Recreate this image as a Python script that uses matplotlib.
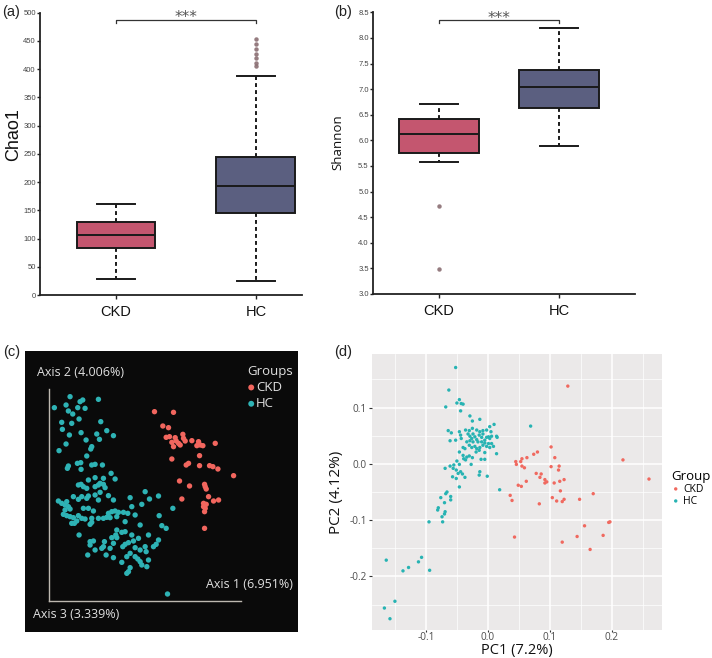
import matplotlib
matplotlib.use('Agg')
import matplotlib.pyplot as plt
import numpy as np
from matplotlib.ticker import MultipleLocator

# ---------------- data ----------------
groups = ['CKD', 'HC']
box_colors = ['#C4566F', '#5B5F80']

chao1_q1 = [83, 146]
chao1_med = [106, 193]
chao1_q3 = [130, 244]
chao1_whislo = [29, 25]
chao1_whishi = [162, 388]
chao1_fliers = [[], [405, 411, 419, 427, 436, 445, 454]]

shannon_q1 = [5.75, 6.64]
shannon_med = [6.12, 7.04]
shannon_q3 = [6.42, 7.38]
shannon_whislo = [5.57, 5.88]
shannon_whishi = [6.70, 8.20]
shannon_fliers = [[4.72, 3.48], []]

# panel (c): PCoA scores (Axis 1, Axis 2)
c_hc_ax1 = [0.062, 0.015, 0.050, 0.092, 0.100, 0.147, 0.085, 0.107, 0.057, 0.070,
            0.089, 0.037, 0.067, 0.154, 0.039, 0.095, 0.060, 0.142, 0.172, 0.192,
            0.110, 0.150, 0.050, 0.127, 0.124, 0.029, 0.112, 0.084, 0.094, 0.057,
            0.054, 0.127, 0.137, 0.159, 0.095, 0.185, 0.137, 0.162, 0.197, 0.117,
            0.087, 0.095, 0.102, 0.112, 0.137, 0.147, 0.152, 0.162, 0.167,
            0.072, 0.097, 0.117, 0.137, 0.152, 0.177, 0.192, 0.087, 0.112, 0.147,
            0.027, 0.037, 0.047, 0.052, 0.057, 0.062, 0.047, 0.042, 0.052, 0.062,
            0.242, 0.277, 0.247, 0.102, 0.117, 0.132, 0.072, 0.087, 0.097, 0.107,
            0.082, 0.067, 0.075, 0.127, 0.127, 0.122, 0.147, 0.162, 0.172, 0.177,
            0.187, 0.197, 0.207, 0.222, 0.202, 0.182, 0.235, 0.257, 0.227, 0.272,
            0.089, 0.202, 0.217, 0.227, 0.199, 0.187, 0.202, 0.247, 0.267, 0.252,
            0.237, 0.227, 0.220, 0.165, 0.162, 0.157, 0.122, 0.132, 0.122, 0.137,
            0.192, 0.182, 0.257, 0.272, 0.287, 0.115, 0.170, 0.192, 0.232, 0.242,
            0.257, 0.265, 0.272, 0.277, 0.217, 0.242, 0.237, 0.232,
            0.287, 0.300, 0.327, 0.370, 0.329, 0.337, 0.350, 0.297, 0.327, 0.320,
            0.312, 0.290, 0.297, 0.292, 0.354]
c_hc_ax2 = [0.613, 0.580, 0.588, 0.598, 0.603, 0.605, 0.580, 0.578, 0.570, 0.561,
            0.546, 0.536, 0.533, 0.538, 0.515, 0.505, 0.498, 0.501, 0.511, 0.496,
            0.483, 0.485, 0.471, 0.463, 0.456, 0.451, 0.435, 0.413, 0.415, 0.405,
            0.398, 0.408, 0.410, 0.408, 0.395, 0.383, 0.370, 0.368, 0.366, 0.363,
            0.348, 0.350, 0.343, 0.338, 0.343, 0.348, 0.353, 0.350, 0.340,
            0.313, 0.313, 0.315, 0.318, 0.326, 0.316, 0.303, 0.305, 0.308, 0.303,
            0.300, 0.293, 0.288, 0.298, 0.283, 0.276, 0.273, 0.260, 0.256, 0.253,
            0.310, 0.290, 0.283, 0.278, 0.278, 0.270, 0.250, 0.256, 0.248, 0.246,
            0.240, 0.233, 0.233, 0.248, 0.236, 0.230, 0.248, 0.248, 0.251, 0.263,
            0.268, 0.270, 0.266, 0.266, 0.253, 0.250, 0.263, 0.258, 0.238, 0.228,
            0.198, 0.213, 0.206, 0.208, 0.198, 0.190, 0.190, 0.198, 0.188, 0.180,
            0.175, 0.170, 0.163, 0.178, 0.163, 0.158, 0.178, 0.180, 0.168, 0.153,
            0.173, 0.158, 0.160, 0.153, 0.163, 0.138, 0.138, 0.130, 0.133, 0.143,
            0.133, 0.126, 0.118, 0.108, 0.116, 0.100, 0.088, 0.083,
            0.328, 0.306, 0.315, 0.278, 0.256, 0.226, 0.218, 0.198, 0.183, 0.170,
            0.163, 0.148, 0.123, 0.103, 0.021]
c_ckd_ax1 = [0.315, 0.372, 0.340, 0.357, 0.350, 0.360, 0.377, 0.380, 0.400, 0.402,
             0.367, 0.387, 0.372, 0.392, 0.407, 0.427, 0.447, 0.452, 0.442, 0.460,
             0.497, 0.450, 0.367, 0.410, 0.417, 0.450, 0.480, 0.490, 0.505, 0.552,
             0.390, 0.420, 0.465, 0.467, 0.470, 0.397, 0.477, 0.492, 0.507, 0.462,
             0.470, 0.462, 0.467, 0.465, 0.465]
c_ckd_ax2 = [0.568, 0.566, 0.525, 0.520, 0.491, 0.493, 0.490, 0.480, 0.500, 0.488,
             0.476, 0.473, 0.463, 0.468, 0.480, 0.481, 0.478, 0.468, 0.466, 0.466,
             0.473, 0.436, 0.426, 0.408, 0.413, 0.406, 0.406, 0.403, 0.396, 0.376,
             0.360, 0.345, 0.350, 0.343, 0.336, 0.306, 0.313, 0.300, 0.303, 0.293,
             0.290, 0.283, 0.278, 0.268, 0.218]

# panel (d): PCA scores
d_hc_pc1 = [-0.052, -0.063, -0.046, -0.050, -0.043, -0.040, -0.068, -0.044, -0.029, -0.025,
            -0.013, 0.010, 0.003, -0.064, -0.059, -0.046, -0.044, -0.043, -0.036, -0.030,
            -0.025, -0.018, -0.013, -0.008, -0.002, 0.005, -0.032, -0.029, -0.026, -0.024,
            -0.021, -0.018, -0.014, -0.010, -0.008, -0.005, -0.002, 0.001, 0.003, 0.006,
            0.014, 0.015, -0.061, -0.052, -0.034, -0.029, -0.024, -0.016, -0.010, -0.005,
            0.001, 0.006, -0.030, -0.026, -0.021, -0.018, -0.013, -0.008, -0.002, 0.003,
            0.009, -0.040, -0.037, -0.046, -0.019, -0.014, -0.005, 0.014, -0.030, -0.025,
            -0.034, -0.039, -0.036, -0.040, -0.011, -0.005, -0.050, -0.046, -0.055, -0.061,
            -0.069, -0.027, -0.044, -0.048, -0.041, -0.056, -0.051, -0.013, -0.014, -0.001,
            -0.057, -0.051, -0.037, -0.046, -0.068, -0.066, -0.076, -0.070, -0.080, -0.081,
            -0.069, -0.070, -0.074, -0.073, -0.095, -0.164, -0.107, -0.112, -0.128, -0.137,
            -0.094, -0.150, -0.167, -0.158, -0.060, -0.060, 0.069, 0.019]
d_hc_pc2 = [0.171, 0.131, 0.114, 0.108, 0.107, 0.106, 0.101, 0.094, 0.085, 0.076,
            0.079, 0.070, 0.066, 0.059, 0.055, 0.057, 0.051, 0.045, 0.060, 0.059,
            0.063, 0.060, 0.057, 0.059, 0.060, 0.057, 0.053, 0.049, 0.045, 0.053,
            0.048, 0.043, 0.051, 0.047, 0.053, 0.042, 0.047, 0.048, 0.045, 0.049,
            0.049, 0.047, 0.041, 0.042, 0.039, 0.041, 0.039, 0.039, 0.039, 0.037,
            0.036, 0.036, 0.033, 0.029, 0.031, 0.027, 0.029, 0.033, 0.031, 0.029,
            0.031, 0.029, 0.027, 0.021, 0.021, 0.024, 0.020, 0.018, 0.014, 0.011,
            0.012, 0.009, 0.007, 0.015, 0.008, 0.008, 0.005, -0.001, -0.002, -0.004,
            -0.008, -0.001, -0.014, -0.017, -0.018, -0.008, -0.011, -0.014, -0.020, -0.022,
            -0.023, -0.026, -0.024, -0.041, -0.053, -0.050, -0.060, -0.069, -0.078, -0.082,
            -0.085, -0.089, -0.094, -0.103, -0.103, -0.171, -0.166, -0.174, -0.184, -0.190,
            -0.189, -0.244, -0.256, -0.275, -0.058, -0.064, 0.067, -0.046]
d_ckd_pc1 = [0.129, 0.102, 0.080, 0.074, 0.108, 0.055, 0.063, 0.045, 0.053, 0.046,
             0.055, 0.059, 0.102, 0.115, 0.114, 0.218, 0.260, 0.078, 0.086, 0.084,
             0.092, 0.095, 0.092, 0.107, 0.116, 0.123, 0.062, 0.049, 0.054, 0.117,
             0.036, 0.039, 0.104, 0.111, 0.120, 0.123, 0.083, 0.148, 0.170, 0.195,
             0.197, 0.156, 0.186, 0.144, 0.043, 0.120, 0.165]
d_ckd_pc2 = [0.138, 0.030, 0.021, 0.017, 0.011, 0.009, 0.011, 0.004, 0.004, -0.001,
             -0.004, -0.007, -0.005, -0.004, -0.011, 0.007, -0.027, -0.017, -0.018, -0.024,
             -0.028, -0.032, -0.034, -0.034, -0.031, -0.028, -0.031, -0.038, -0.040, -0.048,
             -0.056, -0.065, -0.060, -0.066, -0.067, -0.063, -0.071, -0.063, -0.053, -0.104,
             -0.103, -0.110, -0.127, -0.129, -0.130, -0.139, -0.152]

# ---------------- figure ----------------
W, H = 712, 658
fig = plt.figure(figsize=(W / 100, H / 100), dpi=100)
fig.patch.set_facecolor('white')


def fax(l, t, r, b):
    return fig.add_axes([l / W, 1 - b / H, (r - l) / W, (b - t) / H])


def make_stats(q1, med, q3, lo, hi, fl):
    return [dict(q1=q1[i], med=med[i], q3=q3[i], whislo=lo[i], whishi=hi[i],
                 fliers=fl[i], label=groups[i]) for i in range(len(groups))]


def box_panel(ax, stats, pos, widths, capw, ylim, ystep):
    b = ax.bxp(stats, positions=pos, widths=widths, capwidths=capw, patch_artist=True,
               boxprops=dict(edgecolor='#1a1a1a', linewidth=1.4),
               medianprops=dict(color='#1a1a1a', linewidth=1.4),
               whiskerprops=dict(color='#1a1a1a', linewidth=1.4, linestyle=(0, (2, 1.6))),
               capprops=dict(color='#1a1a1a', linewidth=1.4),
               flierprops=dict(marker='o', markersize=3.2, markerfacecolor='#8a6e72',
                               markeredgecolor='none', alpha=0.9))
    for patch, c in zip(b['boxes'], box_colors):
        patch.set_facecolor(c)
    ax.set_ylim(*ylim)
    ax.yaxis.set_major_locator(MultipleLocator(ystep))
    for s in ['top', 'right']:
        ax.spines[s].set_visible(False)
    for s in ['left', 'bottom']:
        ax.spines[s].set_linewidth(1.3)
        ax.spines[s].set_color('#222222')
    ax.tick_params(axis='y', labelsize=5.5, length=2.5, width=1, pad=0.5, colors='#222222',
                   labelcolor='#444444')
    ax.tick_params(axis='x', labelsize=10.5, length=3, width=1, pad=4, colors='#222222',
                   labelcolor='#111111')
    ax.set_facecolor('none')


# panel (a)
axa = fax(40, 12.7, 302, 295)
box_panel(axa, make_stats(chao1_q1, chao1_med, chao1_q3, chao1_whislo, chao1_whishi, chao1_fliers),
          [0, 1], 0.564, 0.27, (0, 500), 50)
axa.set_xlim(-0.543, 1.329)
axa.set_xticks([0, 1])
axa.set_xticklabels(groups)
for t in axa.get_xticklabels() + axa.get_yticklabels():
    t.set_fontfamily('Liberation Sans')
axa.plot([0, 0, 1, 1], [481, 487, 487, 481], color='#333333', lw=0.9, clip_on=False)
axa.text(0.5, 484, '***', ha='center', va='baseline', fontsize=11, color='#555555',
         family='DejaVu Sans')

# panel (b)
axb = fax(373, 12.3, 635, 294)
box_panel(axb, make_stats(shannon_q1, shannon_med, shannon_q3, shannon_whislo, shannon_whishi,
                          shannon_fliers),
          [0, 1], 0.667, 0.317, (3.0, 8.5), 0.5)
axb.set_xlim(-0.55, 1.633)
axb.set_xticks([0, 1])
axb.set_xticklabels(groups)
axb.yaxis.set_major_formatter(matplotlib.ticker.FormatStrFormatter('%.1f'))
for t in axb.get_xticklabels() + axb.get_yticklabels():
    t.set_fontfamily('Liberation Sans')
axb.plot([0, 0, 1, 1], [8.29, 8.35, 8.35, 8.29], color='#333333', lw=0.9, clip_on=False)
axb.text(0.5, 8.30, '***', ha='center', va='baseline', fontsize=11, color='#555555',
         family='DejaVu Sans')

fig.text(14 / W, 1 - 135 / H, 'Chao1', rotation=90, ha='center', va='center', fontsize=13,
         family='Liberation Sans', color='#111111')
fig.text(338 / W, 1 - 142 / H, 'Shannon', rotation=90, ha='center', va='center', fontsize=9.5,
         family='Open Sans', color='#111111')

for lab, x, y in [('(a)', 2, 12), ('(b)', 334, 12), ('(c)', 3, 352), ('(d)', 334, 352)]:
    fig.text(x / W, 1 - y / H, lab, ha='left', va='center', fontsize=10.5,
             family='Liberation Sans', color='#222222')

# panel (c)
axc = fax(25, 351, 298, 632)
axc.set_facecolor('#0a0a0a')
axc.set_xlim(-0.073, 0.745)
axc.set_ylim(-0.093, 0.750)
c_red = '#F2665E'
c_teal = '#2EB3B5'
axc.scatter(c_ckd_ax1, c_ckd_ax2, s=15, color=c_red, edgecolors='none', label='CKD', zorder=3)
axc.scatter(c_hc_ax1, c_hc_ax2, s=15, color=c_teal, edgecolors='none', label='HC', zorder=3)
for s in ['top', 'right']:
    axc.spines[s].set_visible(False)
axc.spines['left'].set_position(('data', 0))
axc.spines['bottom'].set_position(('data', 0))
axc.spines['left'].set_bounds(0, 0.635)
axc.spines['bottom'].set_bounds(0, 0.575)
for s in ['left', 'bottom']:
    axc.spines[s].set_color('#bdb8b0')
    axc.spines[s].set_linewidth(1.0)
axc.set_xticks([])
axc.set_yticks([])
tc = '#e0e0e0'
axc.text((37 - 25) / 273, (632 - 373) / 281, 'Axis 2 (4.006%)', transform=axc.transAxes,
         ha='left', va='center', fontsize=9, color=tc, family='Open Sans')
axc.text((293 - 25) / 273, (632 - 584) / 281, 'Axis 1 (6.951%)', transform=axc.transAxes,
         ha='right', va='center', fontsize=9, color=tc, family='Open Sans')
axc.text((33 - 25) / 273, (632 - 615) / 281, 'Axis 3 (3.339%)', transform=axc.transAxes,
         ha='left', va='center', fontsize=9, color=tc, family='Open Sans')
legc = axc.legend(title='Groups', loc='upper left', bbox_to_anchor=(0.79, 0.975),
                  frameon=False, handlelength=0.6, handletextpad=0.05, borderpad=0,
                  labelspacing=0.25, alignment='left',
                  prop={'family': 'Open Sans', 'size': 9.5}, title_fontsize=9.5,
                  markerscale=1.1)
legc.get_title().set_color(tc)
legc.get_title().set_fontfamily('Open Sans')
for t in legc.get_texts():
    t.set_color(tc)

# panel (d)
axd = fax(372, 354, 662, 630)
axd.set_facecolor('#EBE9E9')
axd.set_xlim(-0.187, 0.281)
axd.set_ylim(-0.295, 0.195)
axd.xaxis.set_major_locator(MultipleLocator(0.1))
axd.yaxis.set_major_locator(MultipleLocator(0.1))
axd.xaxis.set_minor_locator(MultipleLocator(0.05))
axd.yaxis.set_minor_locator(MultipleLocator(0.05))
axd.grid(which='major', color='white', linewidth=1.1)
axd.grid(which='minor', color='white', linewidth=0.5)
axd.set_axisbelow(True)
for s in axd.spines.values():
    s.set_visible(False)
axd.tick_params(which='major', length=2.2, width=0.8, color='#333333', labelsize=7.2,
                labelcolor='#4D4D4D', pad=1.5)
axd.tick_params(axis='x', which='major', length=1.5, pad=0.3)
axd.tick_params(which='minor', length=0)
fmt = matplotlib.ticker.FuncFormatter(lambda v, p: f'{v:.1f}'.replace('-0.0', '0.0'))
axd.xaxis.set_major_formatter(fmt)
axd.yaxis.set_major_formatter(fmt)
for t in axd.get_xticklabels() + axd.get_yticklabels():
    t.set_fontfamily('Open Sans')
d_red = '#F0695F'
d_teal = '#27B3B3'
axd.scatter(d_ckd_pc1, d_ckd_pc2, s=6, color=d_red, edgecolors='none', label='CKD', zorder=3)
axd.scatter(d_hc_pc1, d_hc_pc2, s=6, color=d_teal, edgecolors='none', label='HC', zorder=3)
axd.set_xlabel('PC1 (7.2%)', fontsize=10.5, family='Open Sans', color='#111111',
               va='baseline')
axd.xaxis.set_label_coords(0.5, -(654 - 630) / 276)
axd.set_ylabel('PC2 (4.12%)', fontsize=11, family='Open Sans', labelpad=4, color='#111111')
legd = axd.legend(title='Group', loc='upper left', bbox_to_anchor=(1.015, 0.60), frameon=False,
                  handlelength=0.8, handletextpad=0.3, borderpad=0, labelspacing=0.1,
                  alignment='left', prop={'family': 'Open Sans', 'size': 7.5},
                  title_fontsize=9.5, markerscale=1.0)
legd.get_title().set_fontfamily('Open Sans')

fig.savefig('out.png', dpi=100, facecolor='white')
